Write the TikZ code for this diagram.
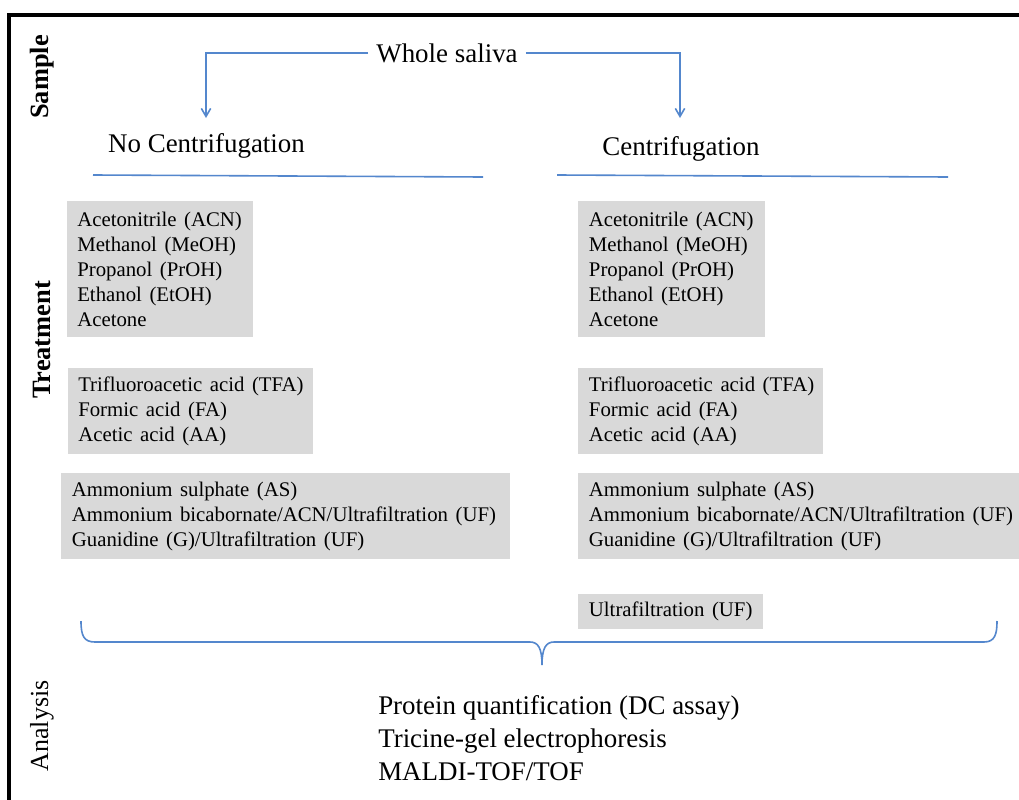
\documentclass[tikz,border=0pt]{standalone}
\usepackage{fontspec}
\setmainfont{Liberation Serif}
\newfontfamily\boxfont[WordSpace=1.45]{Liberation Serif}
\usetikzlibrary{arrows.meta}
\definecolor{lineblue}{RGB}{84,135,205}
\definecolor{boxgray}{RGB}{217,217,217}
\begin{document}
\begin{tikzpicture}[x=0.75pt,y=-0.75pt]
\tikzset{
  gbox/.style={fill=boxgray, draw=none, anchor=north west, inner sep=0pt},
  btext/.style={anchor=west, align=left, inner sep=0pt, font=\boxfont\fontsize{15.6}{18.75}\selectfont},
  toptext/.style={anchor=base, inner xsep=6pt, inner ysep=2pt, font=\fontsize{20.2}{24}\selectfont},
  antext/.style={anchor=base west, inner sep=0pt, font=\fontsize{20.2}{24}\selectfont},
  side/.style={rotate=90, inner sep=0pt, font=\fontsize{19.5}{22}\selectfont},
  bl/.style={draw=lineblue, line width=1.2pt},
  arr/.style={bl, -{Straight Barb[length=6pt,width=7pt]}},
}
\useasboundingbox (0,0) rectangle (1019,799);
\clip (0,0) rectangle (1019,799);
\fill[white] (0,0) rectangle (1019,799);
% frame
\draw[line width=3.2pt] (9,1040) -- (9,15) -- (1060,15);

% side labels
\node[side, font=\fontsize{19.8}{22}\selectfont\bfseries] (sample) at (42,77) {Sample};
\node[side, font=\fontsize{19.8}{22}\selectfont\bfseries] (treat) at (42,340) {Treatment};
\node[side] (anal) at (42,726) {Analysis};

% top
\node[toptext] (whole) at (447,62) {Whole saliva};
\node[toptext] (nc) at (206.5,152) {No Centrifugation};
\node[toptext] (c) at (681,155) {Centrifugation};
\coordinate (ncTip) at (206,118);
\coordinate (cTip) at (680,118);
\draw[arr] (whole.west) -| (ncTip);
\draw[arr] (whole.east) -| (cTip);

% underlines
\coordinate (uL1) at (93,175); \coordinate (uL2) at (483,177);
\coordinate (uR1) at (557,175); \coordinate (uR2) at (948,177);
\draw[bl] (uL1) -- (uL2);
\draw[bl] (uR1) -- (uR2);

% left boxes
\node[gbox, minimum width=139.5pt, minimum height=102pt] (L1) at (67,201) {};
\node[btext] (L1t) at ([xshift=7.5pt]L1.west) {Acetonitrile (ACN)\\Methanol (MeOH)\\Propanol (PrOH)\\Ethanol (EtOH)\\Acetone};
\node[gbox, minimum width=183.75pt, minimum height=64.5pt] (L2) at (68,368) {};
\node[btext] (L2t) at ([xshift=7.5pt]L2.west) {Trifluoroacetic acid (TFA)\\Formic acid (FA)\\Acetic acid (AA)};
\node[gbox, minimum width=336.75pt, minimum height=64.5pt] (L3) at (61,473) {};
\node[btext] (L3t) at ([xshift=8pt]L3.west) {Ammonium sulphate (AS)\\Ammonium bicabornate/ACN/Ultrafiltration (UF)\\Guanidine (G)/Ultrafiltration (UF)};

% right boxes
\node[gbox, minimum width=140.25pt, minimum height=102pt] (R1) at (578,201) {};
\node[btext] (R1t) at ([xshift=8pt]R1.west) {Acetonitrile (ACN)\\Methanol (MeOH)\\Propanol (PrOH)\\Ethanol (EtOH)\\Acetone};
\node[gbox, minimum width=183.75pt, minimum height=64.5pt] (R2) at (578,368) {};
\node[btext] (R2t) at ([xshift=8pt]R2.west) {Trifluoroacetic acid (TFA)\\Formic acid (FA)\\Acetic acid (AA)};
\node[gbox, minimum width=345pt, minimum height=64.5pt] (R3) at (578,473) {};
\node[btext] (R3t) at ([xshift=8pt]R3.west) {Ammonium sulphate (AS)\\Ammonium bicabornate/ACN/Ultrafiltration (UF)\\Guanidine (G)/Ultrafiltration (UF)};
\node[gbox, minimum width=138.75pt, minimum height=26.25pt] (R4) at (578,594) {};
\node[btext] (R4t) at ([xshift=8pt]R4.west) {Ultrafiltration (UF)};

% brace
\draw[bl] (81,621) .. controls (81,636) and (84,642) .. (95,642) -- (530,642)
  .. controls (538,642) and (542,648) .. (542,665)
  .. controls (542,648) and (546,642) .. (554,642) -- (984,642)
  .. controls (995,642) and (997,634) .. (997,621);

% analysis
\node[antext] (a1) at (378,714) {Protein quantification (DC assay)};
\node[antext] (a2) at (378,747) {Tricine-gel electrophoresis};
\node[antext] (a3) at (378,780) {MALDI-TOF/TOF};
\end{tikzpicture}
\end{document}
